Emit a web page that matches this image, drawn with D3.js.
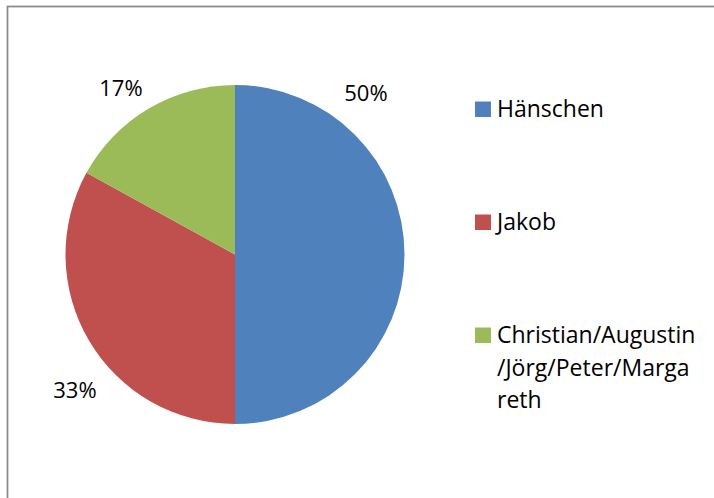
<!DOCTYPE html>
<html>
<head>
<meta charset="utf-8">
<script src="https://cdn.jsdelivr.net/npm/d3@7/dist/d3.min.js"></script>
<style>
  html, body { margin: 0; padding: 0; background: #fff; }
  svg { display: block; }
  text { font-family: "Open Sans", "Noto Sans", sans-serif; fill: #000; }
</style>
</head>
<body>
<svg id="chart" width="714" height="498"></svg>
<script>
// Share of each group
const categories = ["Hänschen", "Jakob", "Christian/Augustin/Jörg/Peter/Margareth"];
const shares = [50, 33, 17];
const percentLabels = ["50%", "33%", "17%"];
// Legend text, wrapped the way it is shown
const legendLines = [["Hänschen"], ["Jakob"], ["Christian/Augustin", "/Jörg/Peter/Marga", "reth"]];
const colors = ["#4F81BD", "#C0504D", "#9BBB59"];

const W = 714, H = 498;
const svg = d3.select("#chart");

// chart frame (runs off the right and bottom edges)
svg.append("rect")
  .attr("x", 7.5).attr("y", 6.5)
  .attr("width", W + 20).attr("height", H + 20)
  .attr("fill", "#fff")
  .attr("stroke", "#8a8a8a")
  .attr("stroke-width", 1.75);

const cx = 235, cy = 254.5, R = 169.5;
const color = d3.scaleOrdinal().domain(categories).range(colors);

const data = categories.map((c, i) => ({ name: c, value: shares[i], label: percentLabels[i] }));
const pie = d3.pie().sort(null).value(d => d.value);
const arcs = pie(data);
const arc = d3.arc().innerRadius(0).outerRadius(R);

const g = svg.append("g").attr("transform", `translate(${cx},${cy})`);
g.selectAll("path.slice")
  .data(arcs)
  .join("path")
  .attr("class", "slice")
  .attr("d", arc)
  .attr("fill", d => color(d.data.name));

// best-fit style label placement: outside the pie, nudged per slice
const labelNudge = [-51.2, -9.4, -3.6];   // degrees
const labelR = [209, 209, 203];
g.selectAll("text.pct")
  .data(arcs)
  .join("text")
  .attr("class", "pct")
  .attr("text-anchor", "middle")
  .attr("dominant-baseline", "central")
  .attr("font-size", 22)
  .attr("transform", (d, i) => {
    const a = (d.startAngle + d.endAngle) / 2 + labelNudge[i] * Math.PI / 180;
    return `translate(${labelR[i] * Math.sin(a)},${-labelR[i] * Math.cos(a)})`;
  })
  .text(d => d.data.label);

// legend
const legendY = d3.scalePoint().domain(categories).range([117, 343]);
const lg = svg.append("g");
const items = lg.selectAll("g.item")
  .data(categories)
  .join("g")
  .attr("class", "item")
  .attr("transform", d => `translate(475,${legendY(d)})`);
items.append("rect")
  .attr("x", 0).attr("y", -15.5)
  .attr("width", 16).attr("height", 15.5)
  .attr("fill", d => color(d));
items.append("text")
  .attr("x", 22).attr("y", 0)
  .attr("font-size", 23)
  .each(function (d, i) {
    d3.select(this).selectAll("tspan")
      .data(legendLines[i])
      .join("tspan")
      .attr("x", 22)
      .attr("dy", (t, j) => j === 0 ? 0 : 32.5)
      .text(t => t);
  });
</script>
</body>
</html>
